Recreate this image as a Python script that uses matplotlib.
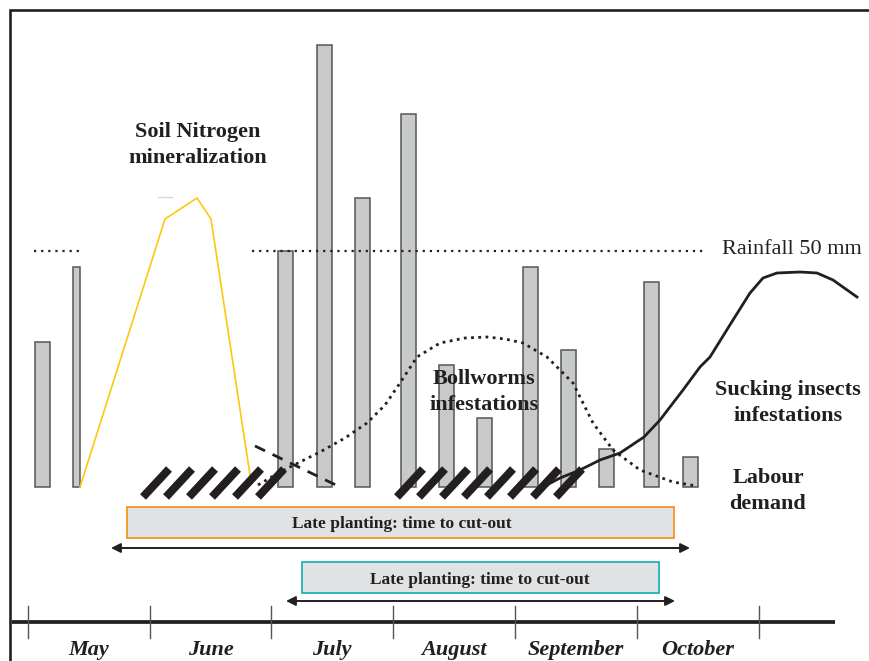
import matplotlib.pyplot as plt
from matplotlib.patches import Rectangle

# all positions are in picture units (x to the right, y downwards)
baseline = 487
bar_left = [35, 73, 278, 317, 355, 401, 439, 477, 523, 561, 599, 644, 683]
bar_width = [15, 7, 15, 15, 15, 15, 15, 15, 15, 15, 15, 15, 15]
bar_top = [342, 267, 251, 45, 198, 114, 365, 418, 267, 350, 449, 282, 457]

rain_y = 251
rain_segments = [(34, 80), (252, 703)]

nitrogen_x = [80, 165, 197, 211, 250]
nitrogen_y = [487, 219, 198, 219, 475]

# labour demand hatch marks (lower-left x of each stroke)
labour_x1 = [143, 166, 189, 212, 235, 258]
labour_x2 = [397, 419, 442, 464, 487, 510, 533, 556]

early_x = [255, 340]
early_y = [446, 487]

bollworm_x = [258, 275, 290, 320, 345, 367, 385, 400, 417, 440, 465, 487, 505, 523,
              547, 573, 593, 613, 640, 673, 697]
bollworm_y = [485, 475, 467, 452, 438, 423, 405, 383, 357, 343, 338, 337, 339, 343,
              357, 383, 423, 450, 470, 482, 486]

sucking_x = [543, 560, 580, 600, 620, 644, 660, 673, 683, 700, 710, 733, 750, 763,
             777, 800, 817, 833, 857]
sucking_y = [487, 478, 470, 460, 453, 437, 420, 403, 390, 367, 357, 320, 293, 278,
             273, 272, 273, 280, 297]

months = ['May', 'June', 'July', 'August', 'September', 'October']
month_ticks = [28, 150, 271, 393, 515, 637, 759]

ink = '#231f20'
serif = 'Liberation Serif'
gap = 1.4

fig = plt.figure(figsize=(8.69, 6.61), dpi=100)
ax = fig.add_axes([0, 0, 1, 1])
ax.set_xlim(0, 869)
ax.set_ylim(661, 0)
ax.axis('off')

# frame
ax.plot([10, 10, 869], [661, 10, 10], color=ink, lw=1.9, solid_joinstyle='miter')

# rainfall bars
heights = [t - baseline for t in bar_top]
ax.bar(bar_left, heights, width=bar_width, bottom=baseline, align='edge',
       color='#c8c9cb', edgecolor='#555555', linewidth=1.1, zorder=2)

# rainfall 50 mm reference
for x0, x1 in rain_segments:
    ax.plot([x0, x1], [rain_y, rain_y], color=ink, lw=1.6, ls=(0, (1, 2.2)), zorder=3)
ax.text(722, rain_y - 1, 'Rainfall 50 mm', family=serif, fontsize=16,
        color=ink, ha='left', va='center')

# soil nitrogen
ax.plot(nitrogen_x, nitrogen_y, color='#fdc80f', lw=1.2, zorder=3)
ax.plot([158, 172], [197, 197], color='#d8d8d8', lw=1)
ax.text(198, 145, 'Soil Nitrogen\nmineralization', family=serif, fontsize=16,
        fontweight='bold', color=ink, ha='center', va='center', linespacing=gap)

# early dashed line
ax.plot(early_x, early_y, color=ink, lw=2, ls=(0, (4, 3)), zorder=3)

# bollworms
ax.plot(bollworm_x, bollworm_y, color=ink, lw=2, ls=(0, (1, 1.6)), zorder=3)
ax.text(484, 392, 'Bollworms\ninfestations', family=serif, fontsize=16,
        fontweight='bold', color=ink, ha='center', va='center', linespacing=gap, zorder=6)

# sucking insects
ax.plot(sucking_x, sucking_y, color=ink, lw=2, zorder=4)
ax.text(788, 403, 'Sucking insects\ninfestations', family=serif, fontsize=16,
        fontweight='bold', color=ink, ha='center', va='center', linespacing=gap)

# labour demand
for x in labour_x1 + labour_x2:
    ax.plot([x, x + 26], [497, 469], color=ink, lw=5.8, solid_capstyle='butt', zorder=5)
ax.text(768, 491, 'Labour\ndemand', family=serif, fontsize=16,
        fontweight='bold', color=ink, ha='center', va='center', linespacing=gap)

# late planting boxes
ax.add_patch(Rectangle((127, 507), 547, 31, facecolor='#e1e2e4',
                       edgecolor='#f7941d', lw=1.3))
ax.text(402, 524, 'Late planting: time to cut-out', family=serif, fontsize=12.5,
        fontweight='bold', color=ink, ha='center', va='center')
ax.annotate('', xy=(690, 548), xytext=(111, 548),
            arrowprops=dict(arrowstyle='<|-|>', color=ink, lw=1.4,
                            mutation_scale=14, shrinkA=0, shrinkB=0))

ax.add_patch(Rectangle((302, 562), 357, 31, facecolor='#e1e2e4',
                       edgecolor='#1fb5b5', lw=1.3))
ax.text(480, 580, 'Late planting: time to cut-out', family=serif, fontsize=12.5,
        fontweight='bold', color=ink, ha='center', va='center')
ax.annotate('', xy=(675, 601), xytext=(286, 601),
            arrowprops=dict(arrowstyle='<|-|>', color=ink, lw=1.4,
                            mutation_scale=14, shrinkA=0, shrinkB=0))

# month axis
ax.plot([12, 835], [622, 622], color=ink, lw=2.7, solid_capstyle='butt')
for x in month_ticks:
    ax.plot([x, x], [606, 638], color='#555555', lw=1)
for i, m in enumerate(months):
    xc = (month_ticks[i] + month_ticks[i + 1]) / 2
    ax.text(xc, 650, m, family=serif, fontsize=16, fontweight='bold',
            fontstyle='italic', color=ink, ha='center', va='center')

fig.savefig('out.png', dpi=100)
